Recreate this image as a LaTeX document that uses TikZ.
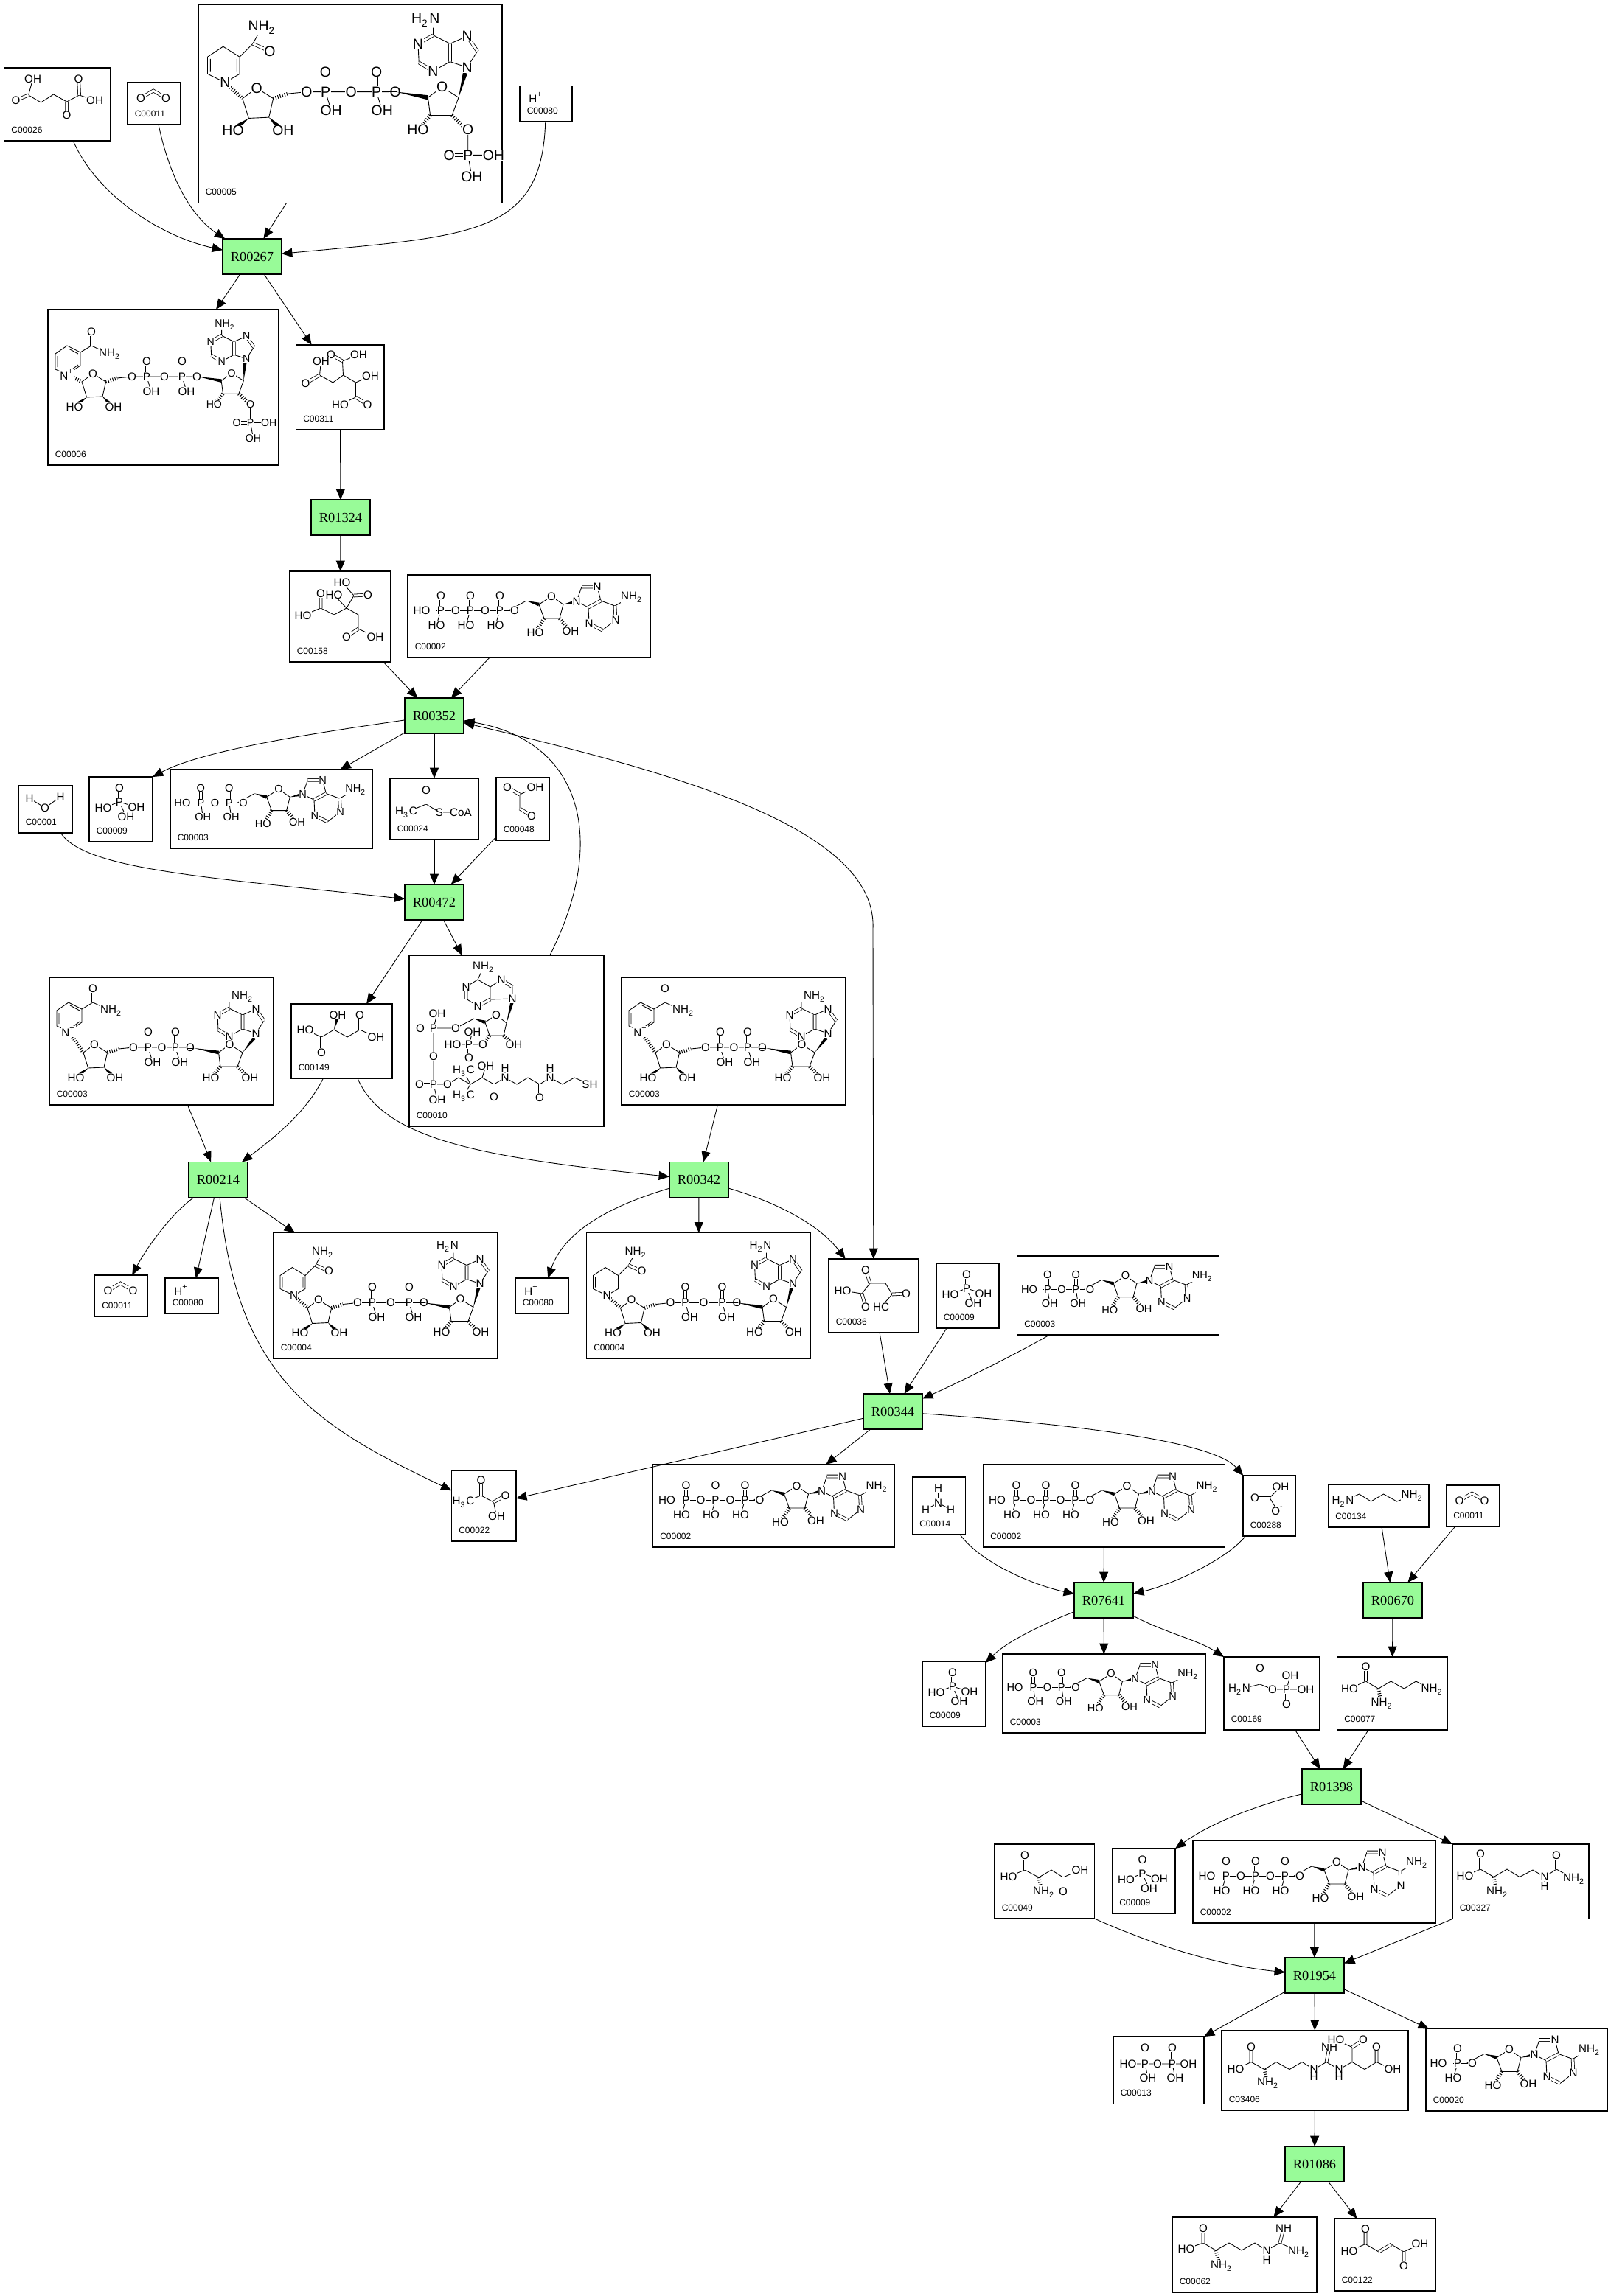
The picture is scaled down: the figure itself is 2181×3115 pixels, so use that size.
\documentclass[tikz,border=0pt]{standalone}
\usepackage{fontspec}
\setmainfont{Liberation Sans}
\newfontfamily\rxnfont{Liberation Serif}
\usetikzlibrary{calc,arrows.meta}
\newcount\atmno
\tikzset{
  bond/.style={line width=.22pt},
  dbl/.style={double,double distance=.75pt,line width=.2pt},
  hsh/.style={line width=1.2pt,dash pattern=on .25pt off .55pt},
  atm/.style={fill=white,inner sep=.1pt,transform shape,font=\fontsize{3.8}{4.2}\selectfont},
  cpd/.style={draw,line width=.28pt,inner sep=0pt,outer sep=0pt},
  cid/.style={anchor=west,inner sep=0pt,font=\fontsize{3}{3.3}\selectfont},
  rct/.style={draw,fill=rctgreen,line width=.28pt,inner sep=0pt,outer sep=0pt,minimum width=20pt,minimum height=12pt,font=\rxnfont\fontsize{4.6}{5}\selectfont},
  edge/.style={line width=.22pt,-{Triangle[length=3.6pt,width=3pt]}},
  dedge/.style={line width=.22pt,{Triangle[length=3.6pt,width=3pt]}-{Triangle[length=3.6pt,width=3pt]}}
}
\definecolor{rctgreen}{HTML}{98FB98}
\begin{document}
\begin{tikzpicture}[x=.25pt,y=-.25pt]
  \useasboundingbox (0,0) rectangle (2181,3115);
  \def\NHt{NH\textsubscript{2}}
  \def\HtN{H\textsubscript{2}N}
  \def\HtC{H\textsubscript{3}C}
  \def\atms#1{\foreach \aX/\aY/\aT in {#1}{
      \global\advance\atmno by 1
      \node[atm] (atm\the\atmno) at (\aX,\aY) {\aT};}}
  \def\wdg#1#2{\fill (#1) -- ($(#2)!.6pt!90:(#1)$) -- ($(#2)!.6pt!-90:(#1)$) -- cycle;}
  \def\molAt#1#2#3#4{\begin{scope}[shift={(#1,#2)},scale=#3] #4 \end{scope}}
  \def\cbox#1#2#3#4#5#6#7{
      \node[cpd,minimum width={(#4-#2)*.25pt},minimum height={(#5-#3)*.25pt}] (#1) at ({(#2+#4)/2},{(#3+#5)/2}) {};
      \node[cid] (#1l) at (#2+9,#5-15) {#6};
      \begin{scope}[shift={(#2,#3)}] #7 \end{scope}}
  \def\rxn#1#2#3{\node[rct] (#1) at (#2,#3) {#1};}
  % phosphate chain, leftwards from the origin
  \def\pchain#1#2#3{
      \draw[bond] (0,0) -- ({-40*#1+14},0);
      \foreach \pn in {1,...,#1}{
        \pgfmathsetmacro\px{-40*\pn+20}
        \pgfmathsetmacro\pl{\px+#2}
        \pgfmathsetmacro\po{-40*\pn}
        \draw[dbl] (\px,0) -- (\px,-20);
        \draw[bond] (\px,0) -- (\pl,20);
        \atms{\px/0/P,\px/-20/O,\pl/20/#3}
        \ifnum\pn<#1 \atms{\po/0/O} \fi
      }
      \pgfmathsetmacro\pe{-40*#1-6}
      \atms{\pe/0/HO}}
  % ribose + purine laid out to the right
  \def\adnh{
      \draw[bond] (-8,0) -- (16,-13);
      \wdg{16,-13}{33,-8}
      \coordinate (rc) at (66,-8);
      \wdg{66,-8}{84,-12}
      \draw[bond] (33,-8) -- (50,-19) -- (66,-8) -- (61,11) -- (40,11) -- cycle;
      \draw[hsh] (40,11) -- (31,25);
      \draw[hsh] (61,11) -- (71,23);
      \draw[bond] (84,-12) -- (91,-32) (112,-32) -- (117,-13) -- (136,-6) (100,-4) -- (84,-12) (100,-4) -- (101,18) (119,27) -- (137,13) (136,-6) -- (152,-15);
      \draw[dbl] (91,-32) -- (112,-32) (117,-13) -- (100,-4) (137,13) -- (136,-6) (101,18) -- (119,27);
      \atms{0/0/O,50/-19/O,28/30/HO,76/28/OH,84/-12/N,112/-32/N,101/18/N,137/13/N,159/-18/\NHt}}
  \def\molatp{\molAt{145}{48}{1}{\pchain{3}{-6}{HO} \adnh}}
  \def\moladp{\molAt{99}{45}{.96}{\pchain{2}{3}{OH} \adnh}}
  \def\molpi{
      \draw[bond] (41,34) -- (19,42) (41,34) -- (64,41) (41,34) -- (50,54);
      \draw[dbl] (41,34) -- (41,15);
      \atms{41/15/O,41/34/P,19/42/HO,64/41/OH,50/54/OH}}
  \def\molco{\draw[dbl] (18,21) -- (35,11) -- (52,21); \atms{18/21/O,52/21/O}}
  % ribose of the nicotinamide side and the diphosphate
  \def\ribone#1{
      \coordinate (rb) at (46,102);
      \draw[bond] (46,102) -- (61,91) -- (78.6,102) -- (74,122) -- (52.6,123) -- cycle;
      \wdg{52.6,123}{42,131}
      \wdg{74,122}{83,131}
      \draw[hsh] (78.6,102) -- (94,97);
      \draw[bond] (94,97) -- (114,95) -- (#1+20,95);
      \pgfmathsetmacro\pm{(134+#1)/2}
      \draw[dbl] (134,95) -- (134,74) (#1,95) -- (#1,74);
      \draw[bond] (134,95) -- (140,115) (#1,95) -- (#1+6,115);
      \atms{61/91/O,36/136/HO,89/136/OH,114/95/O,134/95/P,134/74/O,140/115/OH,\pm/95/O,#1/95/P,#1/74/O,#1+6/115/OH}
      \atms{#1+20/95/O}}
  \def\nicplus{
      \draw[hsh] (26,73) -- (rb);
      \draw[bond] (26,73) -- (10,66) -- (10,45) -- (26,34) -- (44,43) -- (44,61) -- cycle;
      \draw[bond] (13,63) -- (13,48) (28,38) -- (41,45) (41,60) -- (29,69) (44,43) -- (59,34) -- (74,41);
      \draw[dbl] (59,34) -- (59,15);
      \atms{26/73/N\textsuperscript{+},59/15/O,84/45/\NHt}}
  \def\nich{
      \draw[hsh] (27.6,85) -- (rb);
      \draw[bond] (27.6,85) -- (9,76) -- (9,58) -- (25.5,47) -- (43,58) -- (43,76) -- cycle;
      \draw[bond] (12,60) -- (12,74) (40,60) -- (40,74) (43,58) -- (57,44) -- (63,33);
      \draw[dbl] (57,44) -- (75,52);
      \atms{27.6/85/N,67/27/\NHt,75/52/O}}
  % ribose + purine stacked above it
  \def\adnup#1#2#3#4#5{
      \draw[bond] (-10,0) -- (0,0);
      \wdg{0,0}{33.5,6}
      \coordinate (rc) at (66,6);
      \draw[bond] (33.5,6) -- (48.6,-5) -- (66,6) -- (59,25) -- (36,25) -- cycle;
      \draw[hsh] (36,25) -- (27,36);
      \draw[hsh] (59,25) -- (70,36);
      \begin{scope}[shift={(#1,#2)}]
        \wdg{rc}{73,-20}
        \draw[bond] (75,-26) -- (86,-43) (75,-59) -- (57,-51) -- (39,-60) (57,-32) -- (75,-26) (57,-32) -- (39,-22) (24,-31) -- (23,-51) (39,-60) -- (39,-68);
        \draw[dbl] (86,-43) -- (75,-59) (57,-51) -- (57,-32) (39,-22) -- (24,-31) (23,-51) -- (39,-60);
        \atms{75/-26/N,75/-59/N,39/-22/N,23/-51/N,#3/-76/#4}
      \end{scope}
      \atms{48.6/-5/O,23/40/HO,76/40/#5}}
  \def\ptwo{
      \draw[bond] (76,40) -- (76,67) (76,67) -- (103,67) (76,67) -- (80,90);
      \draw[dbl] (76,67) -- (56,67);
      \atms{76/40/O,76/67/P,56/67/O,103/67/OH,80/90/OH}}
  \def\molnadh{\ribone{184} \nich \molAt{205}{95}{1}{\adnup{0}{0}{31}{\HtN}{OH}}}
  \def\molnad{\ribone{171} \nicplus \molAt{196}{96}{1}{\adnup{9}{6}{57}{\NHt}{OH}}}
  %compounds
  \cbox{C00026a}{5.6}{92}{149.5}{191}{C00026}{
      \draw[bond] (39,15) -- (33,37) -- (50,47) -- (67,36) -- (85,46) -- (102,37) -- (123,44);
      \draw[dbl] (33,37) -- (16,44) (85,46) -- (85,64) (102,37) -- (101,15);
      \atms{39/15/OH,16/44/O,85/64/O,101/15/O,123/44/OH}}
  \cbox{C00011a}{173}{112}{245}{169}{C00011}{\molco}
  \cbox{C00005a}{269}{6}{681}{275.5}{C00005}{
      \molAt{1}{-3}{1.28}{\ribone{188} \nich \molAt{209}{95}{1}{\adnup{0}{0}{31}{\HtN}{O} \ptwo}}}
  \cbox{C00080a}{705}{116.6}{776}{165}{C00080}{\atms{22/16/H\textsuperscript{+}}}
  \cbox{C00006a}{65}{420}{378}{631}{C00006}{
      \molAt{0}{-4}{1}{\ribone{182}}
      \molAt{0}{15}{1}{\nicplus}
      \molAt{204}{91}{.93}{\adnup{-5}{0}{44}{\NHt}{O} \ptwo}}
  \cbox{C00311a}{401.5}{468}{521}{583}{C00311}{
      \draw[bond] (85,13) -- (63,22) -- (64,41) -- (50,51) -- (32,41) -- (34,22) (64,41) -- (81,51) -- (81,71) -- (60,81) (81,51) -- (101,42);
      \draw[dbl] (63,22) -- (47.5,13) (32,41) -- (13,52) (81,71) -- (97,81);
      \atms{47.5/13/O,85/13/OH,34/22/OH,13/52/O,101/42/OH,97/81/O,60/81/HO}}
  \cbox{C00158a}{393}{775}{530}{898}{C00158}{
      \draw[bond] (71,15) -- (87,33) -- (77,50) -- (60,59) -- (42,50) -- (18,60) (77,50) -- (60,32) (77,50) -- (93,59) -- (93,78) -- (116,89);
      \draw[dbl] (87,33) -- (106,32) (42,50) -- (42,30) (93,78) -- (77,89);
      \atms{71/15/HO,106/32/O,60/32/HO,42/30/O,18/60/HO,77/89/O,116/89/OH}}
  \cbox{C00002a}{553}{780}{882}{892}{C00002}{\molatp}
  \cbox{C00001a}{25}{1066}{98}{1130}{C00001}{
      \draw[bond] (15,17) -- (36,30) -- (57,15);
      \atms{15/17/H,36/30/O,57/15/H}}
  \cbox{C00009a}{121}{1054}{207}{1142}{C00009}{\molpi}
  \cbox{C00003a}{231}{1044}{505}{1151}{C00003}{\moladp}
  \cbox{C00024a}{529}{1056}{649}{1139}{C00024}{
      \draw[bond] (22,46) -- (49,35) -- (67,46) -- (96,46);
      \draw[dbl] (49,35) -- (49,16);
      \atms{49/16/O,22/46/\HtC,67/46/S,96/46/CoA}}
  \cbox{C00048a}{673}{1055}{745}{1140}{C00048}{
      \draw[bond] (53,13) -- (32,23) -- (32,42);
      \draw[dbl] (32,23) -- (15,13) (32,42) -- (48,52);
      \atms{15/13/O,53/13/OH,48/52/O}}
  \cbox{C00149a}{395}{1362}{532}{1463}{C00149}{
      \draw[bond] (19,35) -- (41,45) -- (58,35) -- (76,45) -- (93,35) -- (115,45);
      \wdg{58,35}{63,18}
      \draw[dbl] (41,45) -- (41,66) (93,35) -- (93,15);
      \atms{19/35/HO,41/66/O,63/15/OH,93/15/O,115/45/OH}}
  \cbox{C00010a}{555}{1296}{819}{1528}{C00010}{
      \draw[bond] (93,33) -- (101,16) (93,33) -- (77,43) (77,59) -- (93,69) (110,60) -- (110,43) (110,43) -- (125,33) (140,43) -- (140,59) -- (110,60) (110,43) -- (93,33);
      \draw[dbl] (77,43) -- (77,59) (93,69) -- (110,60) (125,33) -- (140,43);
      \wdg{132,92}{140,62}
      \draw[bond] (132,92) -- (118,81) -- (103,91) -- (109,109) -- (128,109) -- cycle;
      \wdg{88,86}{103,91}
      \draw[bond] (88,86) -- (63,99) -- (33,99) -- (38,79) (33,99) -- (33,175) -- (38,196) (33,175) -- (52,175) -- (67,166) -- (83,175) -- (99,166) -- (115,175) -- (130,166) -- (146,175) -- (161,166) -- (177,175) -- (191,166) -- (208,175) -- (224,166) -- (245,175);
      \draw[bond] (83,175) -- (74,157) (83,175) -- (74,191) (99,166) -- (104,150) (130,166) -- (130,153) (191,166) -- (191,153);
      \draw[dbl] (33,99) -- (15,99) (33,175) -- (14,175) (115,175) -- (115,192) (177,175) -- (177,193) (81,121) -- (81,139);
      \draw[hsh] (109,109) -- (100,121);
      \draw[hsh] (128,109) -- (142,121);
      \draw[bond] (100,121) -- (59,121) (81,121) -- (86,104);
      \atms{101/16/\NHt,77/43/N,93/69/N,125/33/N,140/59/N,118/81/O,63/99/O,33/99/P,38/79/OH,15/99/O,33/137/O,33/175/P,14/175/O,52/175/O,38/196/OH,142/121/OH,100/121/O,81/121/P,86/104/OH,59/121/HO,81/139/O,74/157/\HtC,74/191/\HtC,104/150/OH,115/192/O,130/166/N,130/153/H,177/193/O,191/166/N,191/153/H,245/175/SH}}
  \cbox{C00003n}{67}{1326}{371}{1499}{C00003}{\molnad}
  \cbox{C00003m}{843}{1326}{1147}{1499}{C00003}{\molnad}
  \cbox{C00011b}{128.5}{1730}{200.5}{1786}{C00011}{\molco}
  \cbox{C00080b}{224}{1734}{296.5}{1782.5}{C00080}{\atms{22/16/H\textsuperscript{+}}}
  \cbox{C00004a}{371}{1672.5}{675}{1843}{C00004}{\molnadh}
  \cbox{C00080c}{699}{1734}{771}{1782.5}{C00080}{\atms{22/16/H\textsuperscript{+}}}
  \cbox{C00004b}{795.5}{1672.5}{1099.5}{1843}{C00004}{\molnadh}
  \cbox{C00036a}{1124}{1708}{1245.5}{1808}{C00036}{
      \draw[bond] (19,43) -- (45,47) -- (56,33) -- (77,33) -- (86,48) -- (71,65);
      \draw[dbl] (56,33) -- (50,15) (45,47) -- (50,65) (86,48) -- (105,47);
      \atms{50/15/O,19/43/HO,50/65/O,105/47/O,71/65/HC}}
  \cbox{C00009b}{1270}{1714}{1355}{1802}{C00009}{\molpi}
  \cbox{C00003b}{1379.5}{1704}{1653.5}{1811}{C00003}{\moladp}
  \cbox{C00022a}{612.5}{1995}{700}{2091}{C00022}{
      \draw[bond] (16,43) -- (40,34) -- (57,43) -- (61,62);
      \draw[dbl] (40,34) -- (40,13) (57,43) -- (73,34);
      \atms{40/13/O,16/43/\HtC,73/34/O,61/62/OH}}
  \cbox{C00002b}{885.5}{1987}{1213.5}{2099}{C00002}{\molatp}
  \cbox{C00014a}{1237.5}{2004}{1309.5}{2082}{C00014}{
      \draw[bond] (35,15) -- (35,35) -- (18,44) (35,35) -- (52,44);
      \atms{35/15/H,35/35/N,18/44/H,52/44/H}}
  \cbox{C00002c}{1333.5}{1987}{1661.5}{2099}{C00002}{\molatp}
  \cbox{C00288a}{1686}{2002}{1757}{2084}{C00288}{
      \draw[bond] (51,15) -- (36,30) -- (47,48);
      \draw[dbl] (36,30) -- (16,30);
      \atms{51/15/OH,16/30/O,47/48/O\textsuperscript{-}}}
  \cbox{C00134a}{1801.5}{2014}{1938}{2072}{C00134}{
      \draw[bond] (20,23) -- (42,13) -- (58,23) -- (75,13) -- (93,23) -- (114,15);
      \atms{20/23/\HtN,114/15/\NHt}}
  \cbox{C00011c}{1961.5}{2015}{2033.5}{2071}{C00011}{\molco}
  \cbox{C00009d}{1251}{2254}{1336.5}{2342}{C00009}{\molpi}
  \cbox{C00003c}{1360}{2244}{1635}{2351}{C00003}{\moladp}
  \cbox{C00169a}{1660}{2248}{1789.5}{2347}{C00169}{
      \draw[bond] (21,44) -- (49,37) -- (66,44) -- (111,44) (85,44) -- (90,25);
      \draw[dbl] (49,37) -- (49,15) (85,44) -- (85,64);
      \atms{49/15/O,21/44/\HtN,66/44/O,85/44/P,90/25/OH,111/44/OH,85/64/O}}
  \cbox{C00077a}{1813.5}{2248}{1963}{2347}{C00077}{
      \draw[bond] (17,43) -- (39,33) -- (56,43) -- (73,33) -- (91,43) -- (107,33) -- (129,44);
      \draw[dbl] (39,33) -- (39,13);
      \draw[hsh] (56,43) -- (59,58);
      \atms{39/13/O,17/43/HO,61/63/\NHt,129/44/\NHt}}
  \cbox{C00049a}{1349}{2502}{1484.5}{2603}{C00049}{
      \draw[bond] (19,44) -- (41,35) -- (60,45) -- (77,35) -- (93,45) -- (116,35);
      \draw[dbl] (41,35) -- (41,15) (93,45) -- (93,64);
      \draw[hsh] (60,45) -- (63,60);
      \atms{41/15/O,19/44/HO,67/65/\NHt,93/64/O,116/35/OH}}
  \cbox{C00009c}{1508.5}{2508}{1594}{2596}{C00009}{\molpi}
  \cbox{C00002d}{1618}{2497}{1947}{2609}{C00002}{\molatp}
  \cbox{C00327a}{1970}{2502}{2155}{2603.5}{C00327}{
      \draw[bond] (17,43) -- (38,34) -- (56,44.5) -- (74,34) -- (91,44.5) -- (109,35) -- (125,44.5) -- (141,34) -- (165,47) (125,44.5) -- (125,57);
      \draw[dbl] (38,34) -- (38,13) (141,34) -- (141,15);
      \draw[hsh] (56,44.5) -- (59,60);
      \atms{38/13/O,17/43/HO,61/65/\NHt,125/44.5/N,125/57/H,141/15/O,165/47/\NHt}}
  \cbox{C00013a}{1510}{2763}{1633}{2854.5}{C00013}{
      \draw[bond] (20,37) -- (102,37) (43,37) -- (47,56) (80,37) -- (84,56);
      \draw[dbl] (43,37) -- (43,15) (80,37) -- (80,15);
      \atms{43/15/O,43/37/P,20/37/HO,47/56/OH,60/37/O,80/37/P,80/15/O,102/37/OH,84/56/OH}}
  \cbox{C03406a}{1657}{2754.5}{1910}{2863}{C03406}{
      \draw[bond] (19,53) -- (40,43) -- (58,53) -- (74,43) -- (92,53) -- (109,43) -- (125,53) -- (142,43) -- (159,53) -- (177,43) -- (194,53) -- (210,43) -- (232,53) (177,43) -- (177,23) -- (155,13) (125,53) -- (125,63) (159,53) -- (159,63);
      \draw[dbl] (40,43) -- (40,23) (142,43) -- (146,23) (177,23) -- (192,13) (210,43) -- (210,23);
      \draw[hsh] (58,53) -- (61,67);
      \atms{40/23/O,19/53/HO,63/72/\NHt,125/53/N,125/63/H,146/23/NH,159/53/N,159/63/H,155/13/HO,192/13/O,210/23/O,232/53/OH}}
  \cbox{C00020a}{1934}{2752.5}{2180}{2864}{C00020}{\molAt{63}{47}{1}{\pchain{1}{-6}{HO} \adnh}}
  \cbox{C00062a}{1590}{3008}{1786}{3110}{C00062}{
      \draw[bond] (19,43) -- (42,35) -- (59,45) -- (77,35) -- (94,45) -- (112,35) -- (128,45) -- (146,35) -- (172,47) (128,45) -- (128,58);
      \draw[dbl] (42,35) -- (42,15) (146,35) -- (151,15);
      \draw[hsh] (59,45) -- (63,60);
      \atms{42/15/O,19/43/HO,67/66/\NHt,128/45/N,128/58/H,151/15/NH,172/47/\NHt}}
  \cbox{C00122a}{1810}{3010}{1947}{3108}{C00122}{
      \draw[bond] (20,44) -- (42,34.5) -- (60,45) (77,35) -- (94,45) -- (116,34.5);
      \draw[dbl] (42,34.5) -- (42,14) (60,45) -- (77,35) (94,45) -- (94,64);
      \atms{42/14/O,20/44/HO,116/34.5/OH,94/64/O}}
  %reactions
  \rxn{R00267}{342}{348}
  \rxn{R01324}{462}{702}
  \rxn{R00352}{589}{971}
  \rxn{R00472}{589}{1224}
  \rxn{R00214}{296}{1600.5}
  \rxn{R00342}{948}{1600.5}
  \rxn{R00344}{1211}{1915}
  \rxn{R07641}{1497}{2171}
  \rxn{R00670}{1889}{2171}
  \rxn{R01398}{1806}{2424}
  \rxn{R01954}{1783}{2680}
  \rxn{R01086}{1783}{2936}
  %connectors
  \draw[edge] (C00026a) .. controls (132,266) and (219,321) .. (R00267);
  \draw[edge] (C00011a) .. controls (233,254.5) and (267,299) .. (R00267);
  \draw[edge] (C00005a) -- (R00267);
  \draw[edge] (C00080a) .. controls (735,320) and (640,320) .. (R00267);
  \draw[edge] (R00267) -- (C00006a);
  \draw[edge] (R00267) -- (C00311a);
  \draw[edge] (C00311a) -- (R01324);
  \draw[edge] (R01324) -- (C00158a);
  \draw[edge] (C00158a) -- (R00352);
  \draw[edge] (C00002a) -- (R00352);
  \draw[edge] (R00352) .. controls (460,990) and (280,1015) .. (C00009a.north east);
  \draw[edge] (R00352) -- (C00003a);
  \draw[edge] (R00352) -- (C00024a);
  \draw[edge] (C00024a) -- (R00472);
  \draw[edge] (C00048a) -- (R00472);
  \draw[edge] (C00001a) .. controls (115,1180) and (280,1190) .. (R00472);
  \draw[edge] (R00472) -- (C00149a);
  \draw[edge] (R00472) -- (C00010a);
  \draw[edge] (C00010a) .. controls (825,1140) and (790,1005) .. (R00352);
  \draw[dedge] (R00352) .. controls (900,1045) and (1190,1120) .. (1184,1260) -- (C00036a.north);
  \draw[edge] (C00003n) -- (R00214);
  \draw[edge] (C00149a) .. controls (415,1510) and (370,1545) .. (R00214);
  \draw[edge] (C00149a) .. controls (520,1545) and (650,1570) .. (R00342);
  \draw[edge] (C00003m) -- (R00342);
  \draw[edge] (R00214) .. controls (228,1650) and (195,1700) .. (C00011b);
  \draw[edge] (R00214) -- (C00080b);
  \draw[edge] (R00214) -- (C00004a);
  \draw[edge] (R00214) .. controls (320,1870) and (430,1935) .. (C00022a);
  \draw[edge] (R00342) .. controls (830,1635) and (765,1670) .. (C00080c);
  \draw[edge] (R00342) -- (C00004b);
  \draw[edge] (R00342) .. controls (1050,1630) and (1110,1660) .. (C00036a);
  \draw[edge] (C00036a) -- (R00344);
  \draw[edge] (C00009b) -- (R00344);
  \draw[edge] (C00003b) .. controls (1380,1836) and (1300,1876) .. (R00344);
  \draw[edge] (R00344) -- (C00022a);
  \draw[edge] (R00344) -- (C00002b);
  \draw[edge] (R00344) .. controls (1500,1935) and (1650,1960) .. (C00288a);
  \draw[edge] (C00014a) .. controls (1330,2120) and (1400,2150) .. (R07641);
  \draw[edge] (C00002c) -- (R07641);
  \draw[edge] (C00288a) .. controls (1665,2115) and (1590,2150) .. (R07641);
  \draw[edge] (C00134a) -- (R00670);
  \draw[edge] (C00011c) -- (R00670);
  \draw[edge] (R00670) -- (C00077a);
  \draw[edge] (R07641) .. controls (1410,2205) and (1365,2228) .. (C00009d);
  \draw[edge] (R07641) -- (C00003c);
  \draw[edge] (R07641) .. controls (1580,2215) and (1625,2225) .. (C00169a.north west);
  \draw[edge] (C00169a) -- (R01398);
  \draw[edge] (C00077a) -- (R01398);
  \draw[edge] (R01398) .. controls (1700,2450) and (1640,2475) .. (C00009c.north east);
  \draw[edge] (R01398) -- (C00327a.north west);
  \draw[edge] (C00049a.south east) .. controls (1550,2632) and (1640,2665) .. (R01954);
  \draw[edge] (C00002d) -- (R01954);
  \draw[edge] (C00327a.south west) -- (R01954);
  \draw[edge] (R01954) -- (C00013a.north east);
  \draw[edge] (R01954) -- (C03406a);
  \draw[edge] (R01954) -- (C00020a);
  \draw[edge] (C03406a) -- (R01086);
  \draw[edge] (R01086) -- (C00062a);
  \draw[edge] (R01086) -- (C00122a);
\end{tikzpicture}
\end{document}
